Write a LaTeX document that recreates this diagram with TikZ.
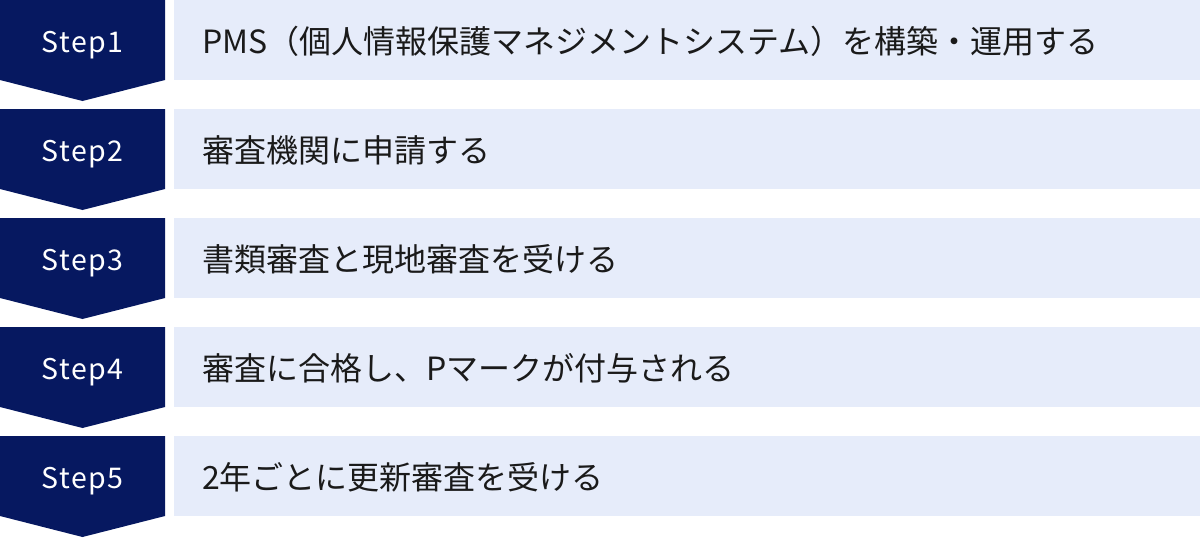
\documentclass[tikz,border=0pt]{standalone}
\usepackage{fontspec}
\setmainfont{Noto Sans CJK JP}
\newfontfamily\stepfont[LetterSpace=5]{Noto Sans CJK JP}
\definecolor{stepnavy}{RGB}{6,24,96}
\definecolor{steplight}{RGB}{230,236,250}
\definecolor{steptext}{RGB}{26,26,26}

\begin{document}
\begin{tikzpicture}[x=1pt,y=-1pt]
\tikzstyle{chevron}=[fill=stepnavy]
\tikzstyle{steplabel}=[text=white, anchor=base, inner sep=0pt, font=\stepfont\fontsize{28.5}{34}\selectfont]
\tikzstyle{descbox}=[fill=steplight, anchor=north west, minimum width=1026pt, minimum height=80pt, inner sep=0pt]
\tikzstyle{desctext}=[text=steptext, anchor=base west, inner sep=0pt, font=\fontsize{32}{38}\selectfont]
\useasboundingbox (0,0) rectangle (1200,538);
\foreach \i/\txt in {1/{PMS（個人情報保護マネジメントシステム）を構築・運用する},
	2/{審査機関に申請する},
	3/{書類審査と現地審査を受ける},
	4/{審査に合格し、Pマークが付与される},
	5/{2年ごとに更新審査を受ける}} {
	\pgfmathsetmacro{\top}{(\i-1)*109}
	\fill[chevron] (0,\top) -- ++(165,0) -- ++(0,80) -- ++(-82.5,21) -- ++(-82.5,-21) -- cycle;
	\node[steplabel] (step\i) at (82.5,\top+52) {Step\i};
	\node[descbox] (box\i) at (174,\top) {};
	\node[desctext] (desc\i) at (202,\top+53) {\txt};
}
\end{tikzpicture}
\end{document}
